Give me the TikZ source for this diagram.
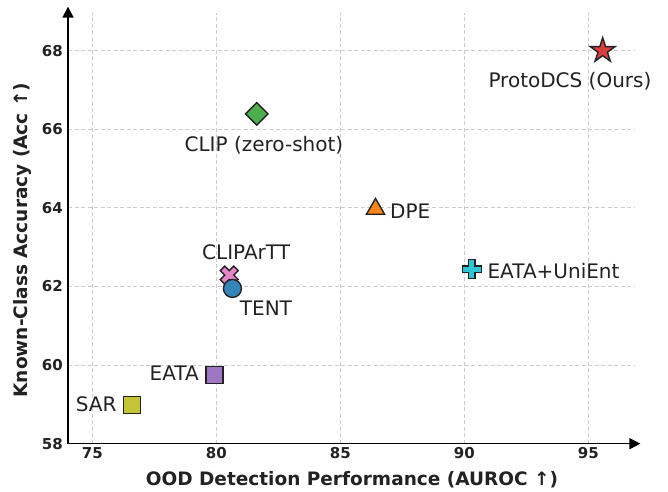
\documentclass[tikz,border=0pt]{standalone}
\usepackage{fontspec}
\setmainfont{DejaVu Sans}
\usetikzlibrary{shapes.geometric,arrows.meta}
\definecolor{tabred}{HTML}{D62728}
\definecolor{tabgreen}{HTML}{2CA02C}
\definecolor{taborange}{HTML}{FF7F0E}
\definecolor{tabcyan}{HTML}{17BECF}
\definecolor{tabpink}{HTML}{E377C2}
\definecolor{tabblue}{HTML}{1F77B4}
\definecolor{tabpurple}{HTML}{9467BD}
\definecolor{tabolive}{HTML}{BCBD22}
\definecolor{txt}{HTML}{222222}
\begin{document}
\begin{tikzpicture}[x=24.8bp,y=39.3bp,
	gridline/.style={draw=black!20,line width=0.8bp,dash pattern=on 4bp off 2.5bp},
	axisline/.style={line width=1.6bp,-{Triangle[length=11bp,width=11bp]}},
	mk/.style={draw=txt,line width=1.4bp,inner sep=0pt},
	lab/.style={text=txt,inner sep=0pt,font=\fontsize{20bp}{24bp}\selectfont},
	ticklab/.style={text=txt,inner sep=0pt,font=\fontsize{15bp}{18bp}\selectfont\bfseries},
	axlab/.style={text=txt,inner sep=0pt,font=\fontsize{18.5bp}{22bp}\selectfont\bfseries}]
	\useasboundingbox (71.278,56.771) rectangle (98.214,69.290);
	\foreach \gx in {75,80,...,95}
		\draw[gridline] (\gx,58) -- (\gx,68.96);
	\foreach \gy in {60,62,...,68}
		\draw[gridline] (74.02,\gy) -- (96.9,\gy);
	\draw[axisline] (74.02,58) -- (97.1,58);
	\draw[axisline] (74.02,58) -- (74.02,69.12);
	\foreach \gx in {75,80,...,95}
		\node[ticklab,anchor=north] (xt\gx) at ([yshift=-4bp]\gx,58) {\gx};
	\foreach \gy in {58,60,...,68}
		\node[ticklab,anchor=east] (yt\gy) at ([xshift=-5bp]74.02,\gy) {\gy};
	\node[axlab] (xlab) at (85.47,57.08) {OOD Detection Performance (AUROC ↑)};
	\node[axlab,rotate=90] (ylab) at (72.17,63.18) {Known-Class Accuracy (Acc ↑)};
	\node[mk,star,star points=5,star point ratio=2.618,minimum size=26bp,fill=tabred!90!white] (proto) at (95.58,68) {};
	\node[mk,diamond,minimum size=23bp,fill=tabgreen!85!white] (clip) at (81.63,66.39) {};
	\node[mk,regular polygon,regular polygon sides=3,minimum size=21bp,fill=taborange!95!white] (dpe) at (86.42,63.97) {};
	\coordinate (unient) at (90.30,62.44);
	\draw[mk,fill=tabcyan!90!white,shift={(unient)}] (-3.2bp,-9.5bp) -- (3.2bp,-9.5bp) -- (3.2bp,-3.2bp) -- (9.5bp,-3.2bp) -- (9.5bp,3.2bp) -- (3.2bp,3.2bp) -- (3.2bp,9.5bp) -- (-3.2bp,9.5bp) -- (-3.2bp,3.2bp) -- (-9.5bp,3.2bp) -- (-9.5bp,-3.2bp) -- (-3.2bp,-3.2bp) -- cycle;
	\coordinate (clipartt) at (80.52,62.29);
	\draw[mk,fill=tabpink!90!white,shift={(clipartt)},rotate=45] (-3.2bp,-9.5bp) -- (3.2bp,-9.5bp) -- (3.2bp,-3.2bp) -- (9.5bp,-3.2bp) -- (9.5bp,3.2bp) -- (3.2bp,3.2bp) -- (3.2bp,9.5bp) -- (-3.2bp,9.5bp) -- (-3.2bp,3.2bp) -- (-9.5bp,3.2bp) -- (-9.5bp,-3.2bp) -- (-3.2bp,-3.2bp) -- cycle;
	\node[mk,circle,minimum size=18bp,fill=tabblue!90!white] (tent) at (80.65,61.95) {};
	\node[mk,rectangle,minimum size=17bp,fill=tabpurple!90!white] (eata) at (79.93,59.75) {};
	\node[mk,rectangle,minimum size=17bp,fill=tabolive!90!white] (sar) at (76.59,58.98) {};
	\node[lab] (protolab) at (94.26,67.21) {ProtoDCS (Ours)};
	\node[lab] (cliplab) at (81.92,65.60) {CLIP (zero-shot)};
	\node[lab,anchor=west] (dpelab) at (87.00,63.92) {DPE};
	\node[lab,anchor=west] (unientlab) at (90.93,62.39) {EATA+UniEnt};
	\node[lab] (clipharttlab) at (81.20,62.86) {CLIPArTT};
	\node[lab] (tentlab) at (82.00,61.445) {TENT};
	\node[lab,anchor=east] (eatalab) at (79.30,59.79) {EATA};
	\node[lab,anchor=east] (sarlab) at (75.98,59.00) {SAR};
\end{tikzpicture}
\end{document}
